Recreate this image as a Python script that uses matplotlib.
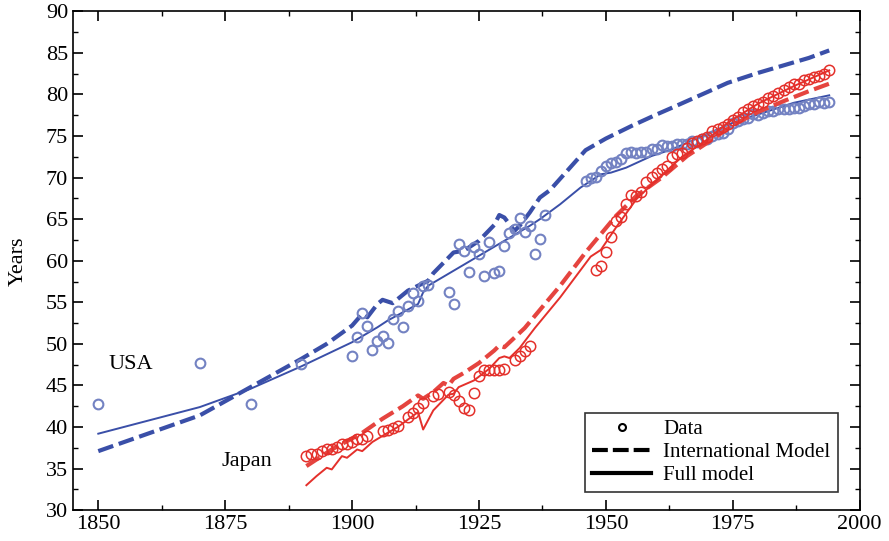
import matplotlib
matplotlib.use("Agg")
import matplotlib.pyplot as plt
from matplotlib.lines import Line2D

# ---------------- data ----------------
usa_years = [1850, 1870, 1880, 1890,
             1900, 1901, 1902, 1903, 1904, 1905, 1906, 1907, 1908, 1909, 1910, 1911, 1912, 1913, 1914, 1915,
             1919, 1920, 1921, 1922, 1923, 1924, 1925, 1926, 1927, 1928, 1929, 1930, 1931, 1932, 1933, 1934,
             1935, 1936, 1937, 1938,
             1946, 1947, 1948, 1949, 1950, 1951, 1952, 1953, 1954, 1955, 1956, 1957, 1958, 1959, 1960,
             1961, 1962, 1963, 1964, 1965, 1966, 1967, 1968, 1969, 1970, 1971, 1972, 1973, 1974, 1975,
             1976, 1977, 1978, 1979, 1980, 1981, 1982, 1983, 1984, 1985, 1986, 1987, 1988, 1989, 1990,
             1991, 1992, 1993, 1994]
usa_data = [42.8, 47.7, 42.8, 47.6,
            48.5, 50.8, 53.7, 52.2, 49.3, 50.4, 51.0, 50.1, 53.0, 54.0, 52.0, 54.6, 56.1, 55.2, 57.0, 57.1,
            56.2, 54.8, 62.0, 61.2, 58.7, 61.6, 60.8, 58.2, 62.3, 58.5, 58.8, 61.8, 63.3, 63.8, 65.2, 63.4,
            64.2, 60.8, 62.6, 65.5,
            69.6, 69.9, 70.1, 70.8, 71.4, 71.7, 71.9, 72.2, 73.0, 73.1, 73.0, 73.1, 73.1, 73.4, 73.4,
            73.9, 73.8, 73.8, 74.0, 74.0, 74.1, 74.4, 74.3, 74.6, 74.7, 75.0, 75.2, 75.4, 75.9, 76.6,
            76.8, 77.1, 77.2, 77.6, 77.5, 77.8, 78.0, 78.0, 78.2, 78.2, 78.3, 78.4, 78.4, 78.6, 78.8,
            78.9, 79.1, 79.0, 79.1]

usa_intl_years = [1850, 1870, 1880, 1890, 1895, 1900, 1902, 1903, 1905, 1906, 1908, 1911, 1913, 1915,
                  1916, 1920, 1922, 1925, 1928, 1929, 1930, 1932, 1933, 1935, 1937, 1939, 1946, 1950,
                  1955, 1960, 1963, 1970, 1974, 1980, 1985, 1990, 1994]
usa_intl = [37.1, 41.4, 44.8, 48.2, 50.0, 52.2, 53.6, 53.2, 54.8, 55.3, 54.9, 56.4, 57.0, 57.6,
            58.5, 61.0, 61.2, 62.4, 64.3, 65.5, 65.2, 63.6, 64.2, 65.8, 67.6, 68.5, 73.3, 74.7,
            76.2, 77.6, 78.4, 80.3, 81.4, 82.6, 83.5, 84.4, 85.3]

usa_full_years = [1850, 1870, 1880, 1890, 1900, 1905, 1907, 1910, 1913, 1914, 1915, 1920, 1925, 1930,
                  1935, 1937, 1941, 1945, 1949, 1951, 1954, 1959, 1963, 1969, 1975, 1977, 1982, 1987, 1994]
usa_full = [39.2, 42.4, 44.6, 47.3, 50.2, 52.0, 52.8, 53.8, 54.8, 56.2, 57.0, 58.8, 60.6, 62.4,
            64.2, 65.0, 66.8, 68.8, 70.4, 70.6, 71.2, 72.6, 73.4, 75.0, 76.6, 77.0, 78.0, 79.0, 79.9]

jpn_years = [1891, 1892, 1893, 1894, 1895, 1896, 1897, 1898, 1899, 1900, 1901, 1902, 1903,
             1906, 1907, 1908, 1909, 1911, 1912, 1913, 1914, 1916, 1917, 1919, 1920, 1921, 1922,
             1923, 1924, 1925, 1926, 1927, 1928, 1929, 1930, 1932, 1933, 1934, 1935,
             1948, 1949, 1950, 1951, 1952, 1953, 1954, 1955, 1956, 1957, 1958, 1959, 1960, 1961,
             1962, 1963, 1964, 1965, 1966, 1967, 1968, 1969, 1970, 1971, 1972, 1973, 1974, 1975,
             1976, 1977, 1978, 1979, 1980, 1981, 1982, 1983, 1984, 1985, 1986, 1987, 1988, 1989,
             1990, 1991, 1992, 1993, 1994]
jpn_data = [36.5, 36.7, 36.8, 37.1, 37.3, 37.4, 37.6, 37.9, 38.0, 38.2, 38.5, 38.6, 38.9,
            39.5, 39.6, 39.9, 40.1, 41.2, 41.7, 42.3, 42.9, 43.7, 44.0, 44.2, 43.8, 43.1, 42.3,
            42.1, 44.1, 46.1, 46.9, 46.9, 46.9, 46.9, 47.0, 48.1, 48.6, 49.1, 49.7,
            58.9, 59.4, 61.0, 62.8, 64.8, 65.3, 66.8, 67.9, 67.8, 68.3, 69.5, 70.1, 70.5, 71.0,
            71.4, 72.5, 72.9, 73.0, 73.6, 74.2, 74.4, 74.7, 74.9, 75.6, 75.9, 76.1, 76.4, 76.9,
            77.3, 77.9, 78.2, 78.6, 78.8, 79.1, 79.6, 79.8, 80.2, 80.5, 80.9, 81.3, 81.3, 81.8,
            81.9, 82.1, 82.2, 82.5, 83.0]

jpn_intl_years = [1891, 1896, 1902, 1906, 1910, 1913, 1914, 1916, 1918, 1919, 1920, 1922, 1925,
                  1928, 1929, 1930, 1934, 1941, 1946, 1952, 1956, 1961, 1966, 1970, 1975, 1980,
                  1985, 1990, 1994]
jpn_intl = [35.3, 37.3, 39.3, 41.0, 42.5, 43.8, 43.4, 44.2, 45.3, 45.0, 45.8, 46.5, 47.7,
            49.2, 49.8, 49.6, 51.9, 57.0, 61.0, 65.4, 67.8, 70.0, 72.6, 74.2, 76.3, 77.9,
            79.2, 80.4, 81.3]

jpn_full_years = [1891, 1893, 1895, 1896, 1898, 1899, 1901, 1902, 1904, 1907, 1909, 1911, 1913,
                  1914, 1916, 1919, 1920, 1921, 1924, 1927, 1929, 1930, 1931, 1933, 1936, 1941,
                  1947, 1949, 1952, 1956, 1961, 1965, 1970, 1974, 1980, 1987, 1994]
jpn_full = [33.0, 34.1, 35.1, 34.9, 36.5, 36.3, 37.3, 37.1, 38.2, 39.3, 40.0, 40.9, 41.8,
            39.7, 42.0, 43.9, 44.0, 44.8, 45.6, 47.0, 48.3, 48.5, 48.3, 49.5, 51.9, 55.6,
            60.5, 61.3, 64.0, 67.4, 70.3, 72.5, 74.6, 76.6, 78.9, 81.0, 82.9]

x_ticks = [1850, 1875, 1900, 1925, 1950, 1975, 2000]
y_ticks = [30, 35, 40, 45, 50, 55, 60, 65, 70, 75, 80, 85, 90]

# ---------------- style ----------------
plt.rcParams['font.family'] = ['Liberation Serif', 'DejaVu Serif']
BLUE = '#3a4fa8'
BLUE_PT = '#7382c2'
RED = '#e4302b'
RED_D = '#e5443f'

fig = plt.figure(figsize=(8.89, 5.41), dpi=100)
ax = fig.add_axes([0.082, 0.057, 0.885, 0.922])

ax.plot(usa_intl_years, usa_intl, color=BLUE, lw=3.0, dashes=(3.8, 1.4))
ax.plot(usa_full_years, usa_full, color=BLUE, lw=1.4)
ax.plot(usa_years, usa_data, 'o', mfc='none', mec=BLUE_PT, mew=1.5, ms=7)

ax.plot(jpn_intl_years, jpn_intl, color=RED_D, lw=3.0, dashes=(3.8, 1.4))
ax.plot(jpn_full_years, jpn_full, color=RED, lw=1.4)
ax.plot(jpn_years, jpn_data, 'o', mfc='none', mec=RED, mew=1.1, ms=7.5)

ax.text(1852, 47.5, 'USA', fontsize=16, va='center', ha='left')
ax.text(1874.3, 35.9, 'Japan', fontsize=16, va='center', ha='left')

ax.set_xlim(1845, 2000)
ax.set_ylim(30, 90)
ax.set_xticks(x_ticks)
ax.set_yticks(y_ticks)
ax.set_xticks([1862.5, 1887.5, 1912.5, 1937.5, 1962.5, 1987.5], minor=True)
ax.set_yticks([32.5 + 5 * i for i in range(12)], minor=True)
ax.tick_params(which='both', direction='in', top=True, right=True, labelsize=16)
ax.tick_params(which='major', length=7, width=1.2)
ax.tick_params(which='minor', length=3.5, width=1.0)
for s in ax.spines.values():
    s.set_linewidth(1.2)
ax.set_ylabel('Years', fontsize=16)
ax.yaxis.set_label_coords(-0.058, 0.5)

handles = [
    Line2D([], [], ls='none', marker='o', mfc='none', mec='black', mew=1.5, ms=5),
    Line2D([], [], color='black', lw=3, dashes=(3.8, 1.2)),
    Line2D([], [], color='black', lw=3),
]
leg = ax.legend(handles, ['Data', 'International Model', 'Full model'],
                loc='lower right', bbox_to_anchor=(0.972, 0.036), borderaxespad=0,
                fontsize=15, frameon=True, fancybox=False, edgecolor='black',
                handlelength=2.8, handletextpad=0.6, labelspacing=0.15, borderpad=0.35)
leg.get_frame().set_linewidth(1.2)

fig.savefig('out.png', dpi=100)
